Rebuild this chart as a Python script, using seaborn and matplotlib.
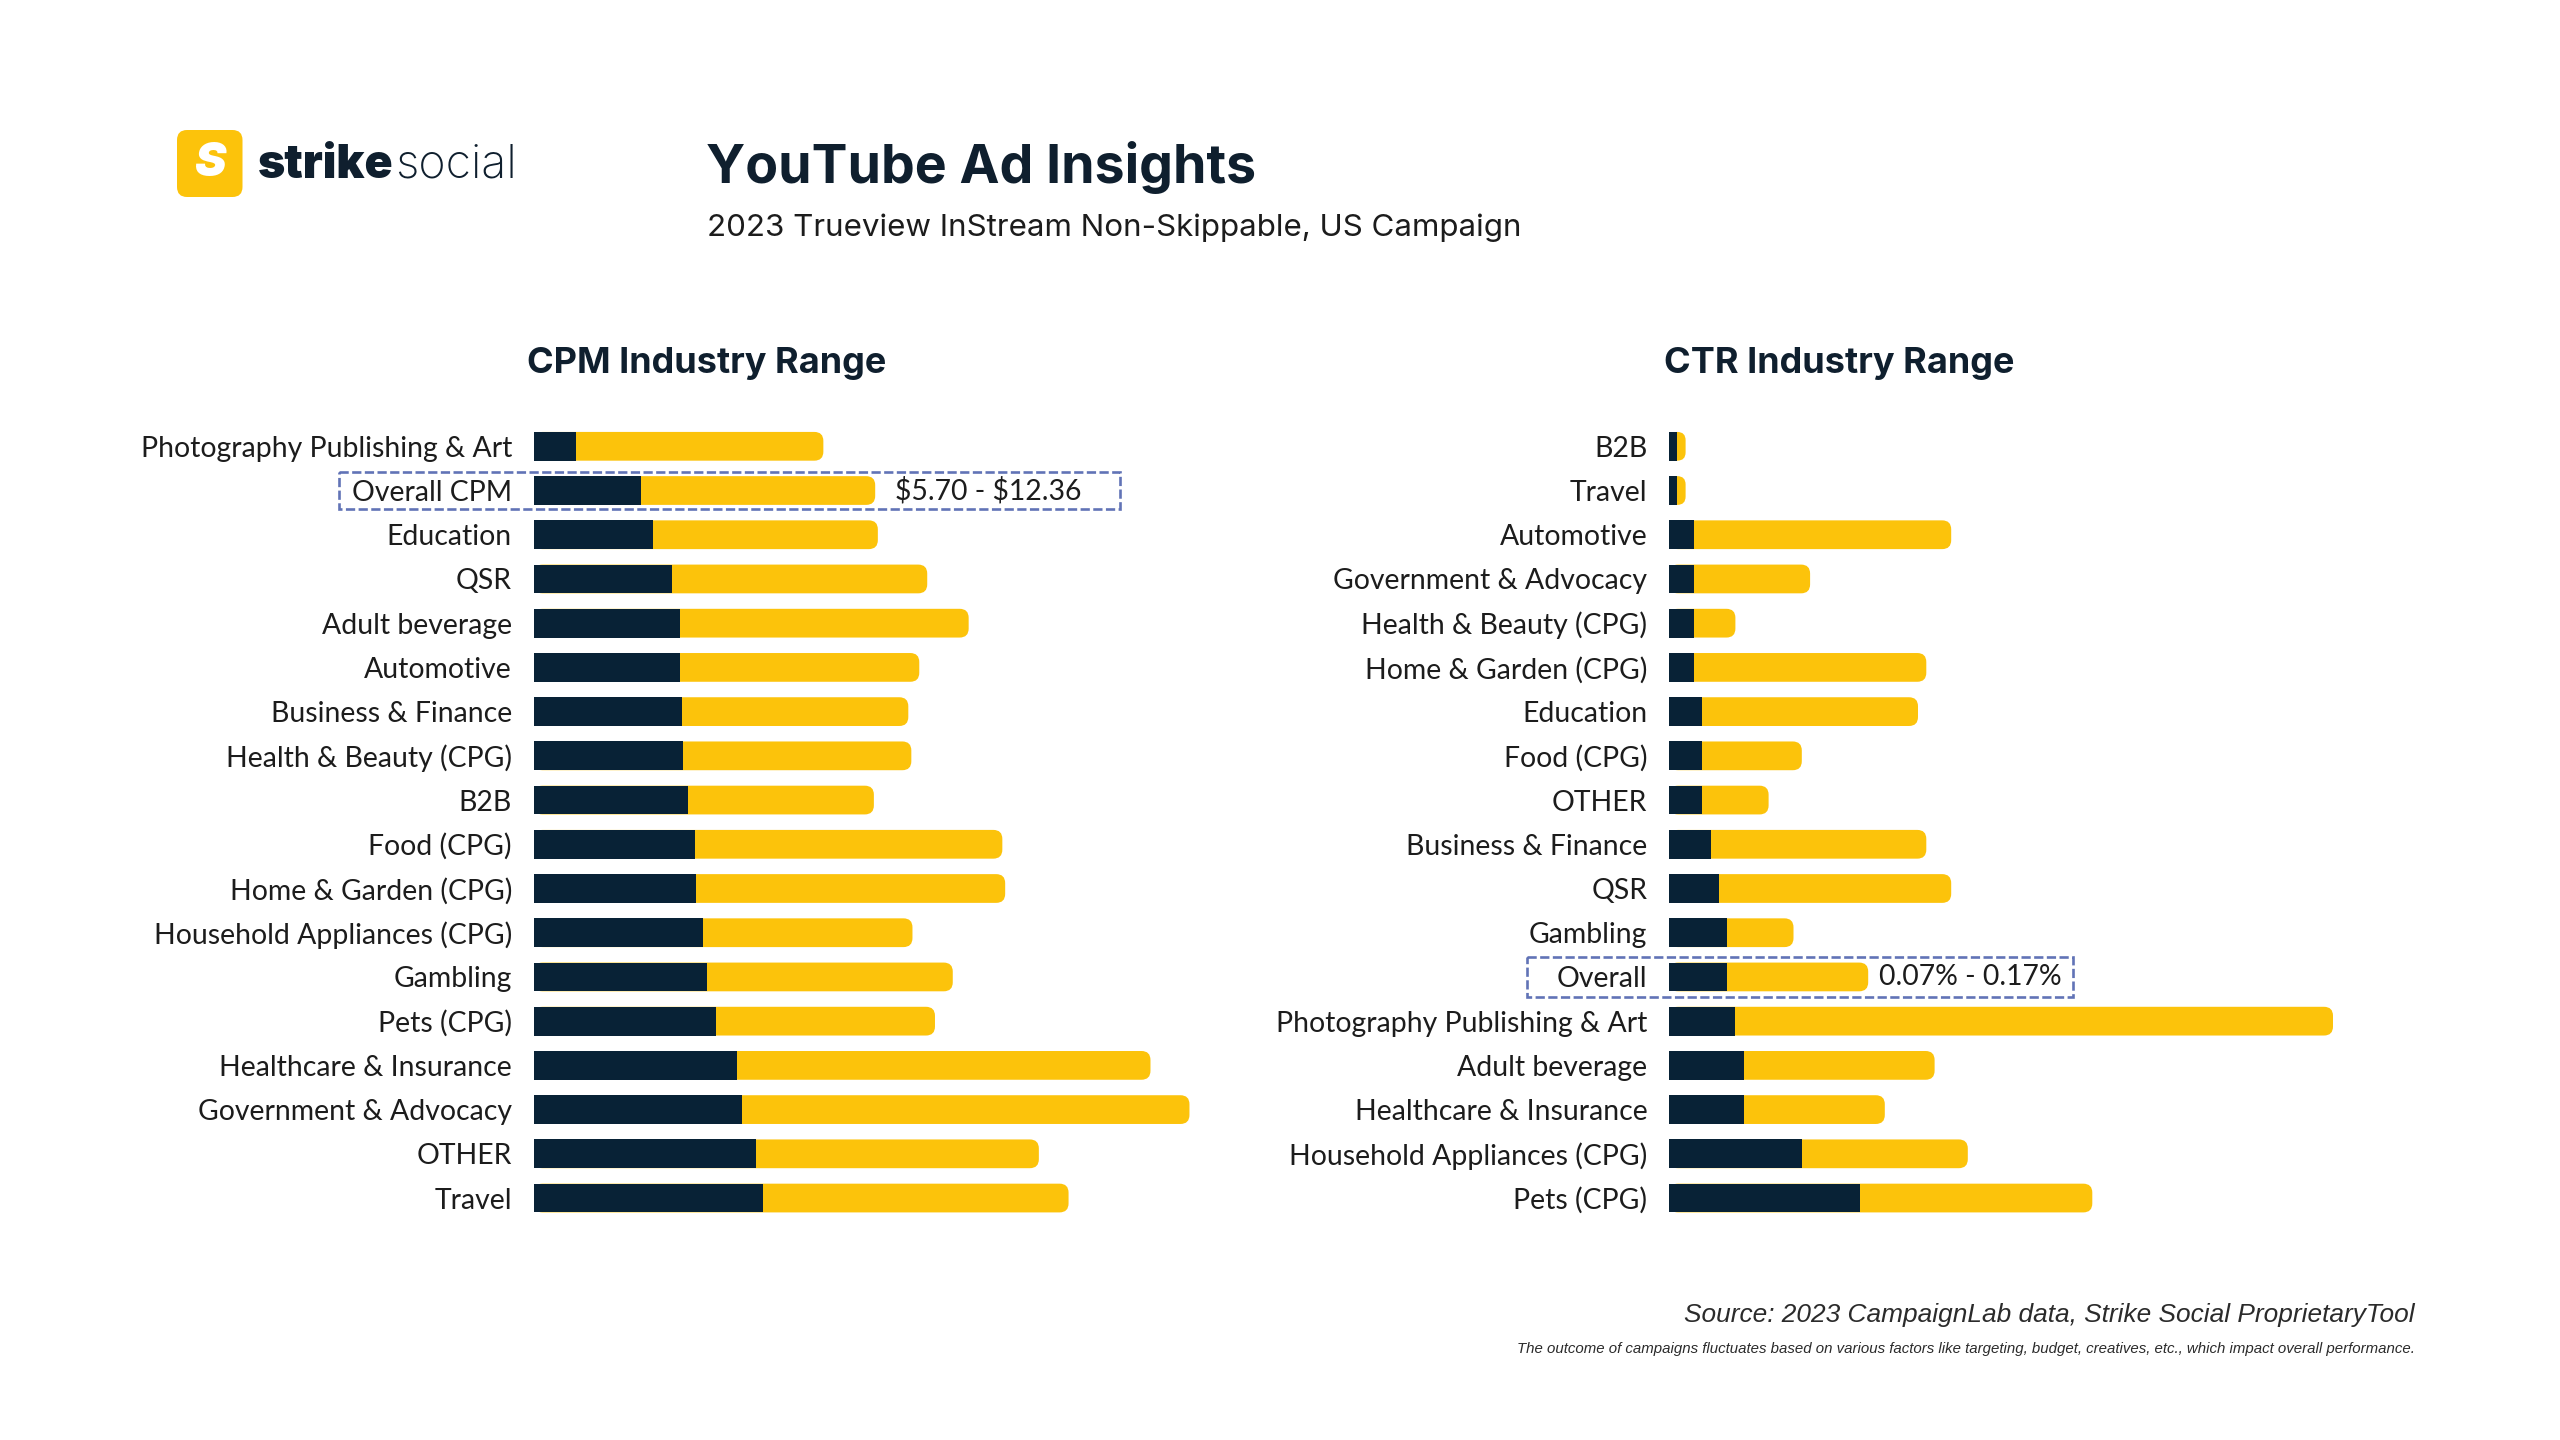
import matplotlib
matplotlib.use("Agg")
import matplotlib.pyplot as plt
from matplotlib.patches import FancyBboxPatch, Rectangle
import seaborn as sns
import pandas as pd

# ---- data (navy = low end, yellow = high end, stacked) ----
cpm_labels = ["Photography Publishing & Art", "Overall CPM", "Education", "QSR",
              "Adult beverage", "Automotive", "Business & Finance", "Health & Beauty (CPG)",
              "B2B", "Food (CPG)", "Home & Garden (CPG)", "Household Appliances (CPG)",
              "Gambling", "Pets (CPG)", "Healthcare & Insurance", "Government & Advocacy",
              "OTHER", "Travel"]
cpm_low = [2.27, 5.70, 6.29, 7.34, 7.75, 7.75, 7.83, 7.91, 8.17, 8.51, 8.59, 8.96,
           9.16, 9.63, 10.78, 11.04, 11.78, 12.14]
cpm_high = [13.05, 12.36, 11.91, 13.47, 15.25, 12.64, 11.98, 12.06, 9.82, 16.27, 16.34,
            11.07, 13.00, 11.59, 21.83, 23.63, 14.93, 16.14]

ctr_labels = ["B2B", "Travel", "Automotive", "Government & Advocacy", "Health & Beauty (CPG)",
              "Home & Garden (CPG)", "Education", "Food (CPG)", "OTHER", "Business & Finance",
              "QSR", "Gambling", "Overall", "Photography Publishing & Art", "Adult beverage",
              "Healthcare & Insurance", "Household Appliances (CPG)", "Pets (CPG)"]
ctr_low = [0.01, 0.01, 0.03, 0.03, 0.03, 0.03, 0.04, 0.04, 0.04, 0.05, 0.06, 0.07, 0.07,
           0.08, 0.09, 0.09, 0.16, 0.23]
ctr_high = [0.01, 0.01, 0.31, 0.14, 0.05, 0.28, 0.26, 0.12, 0.08, 0.26, 0.28, 0.08, 0.17,
            0.72, 0.23, 0.17, 0.20, 0.28]

cpm_note = r"\$5.70 - \$12.36"
ctr_note = "0.07% - 0.17%"

NAVY = "#082236"
YELLOW = "#FCC30B"
BOX = "#6173B6"
INK = "#1c1c1c"
TITLE_INK = "#0f1f2e"

sns.set_theme(style="white")
plt.rcParams["font.family"] = ["Lato", "DejaVu Sans"]

FIG_W, FIG_H = 2560, 1440
fig = plt.figure(figsize=(FIG_W / 100, FIG_H / 100), dpi=100)
fig.patch.set_facecolor("white")
renderer = fig.canvas.get_renderer()


def fit(t, target_px):
    # scale a text's font size so it spans target_px
    w = t.get_window_extent(renderer).width
    t.set_fontsize(t.get_fontsize() * target_px / w)
    return t


# measure label font size from the longest label
probe = fig.text(0, 0, "Photography Publishing & Art", fontsize=19)
fit(probe, 371)
LABEL_SIZE = probe.get_fontsize()
probe.remove()

ROW0, ROW_STEP, N = 446.3, 44.22, 18
ax_h = ROW_STEP * N
ax_bottom = 1 - (ROW0 - ROW_STEP / 2 + ax_h) / FIG_H


def draw_range(left_px, px_per_unit, xmax, labels, low, high, note, note_off, box_x, box_h):
    ax = fig.add_axes([left_px / FIG_W, ax_bottom, xmax * px_per_unit / FIG_W, ax_h / FIG_H])
    df = pd.DataFrame({"label": labels, "low": low, "high": high})
    df["total"] = df["low"] + df["high"]

    sns.barplot(data=df, x="total", y="label", color=YELLOW, saturation=1, width=0.65,
                errorbar=None, linewidth=0, edgecolor="none", orient="h", ax=ax)
    yellow = list(ax.patches)
    sns.barplot(data=df, x="low", y="label", color=NAVY, saturation=1, width=0.65,
                errorbar=None, linewidth=0, edgecolor="none", orient="h", ax=ax)
    navy = [p for p in ax.patches if p not in yellow]

    ax.set_xlim(0, xmax)
    ax.set_ylim(N - 0.5, -0.5)

    # rounded right ends on the yellow bars
    aspect = px_per_unit / ROW_STEP
    r = 9 / px_per_unit
    for p in yellow:
        x, y, w, h = p.get_x(), p.get_y(), p.get_width(), p.get_height()
        rr = min(r, w / 2)
        ax.add_patch(FancyBboxPatch((x, y), w, h, boxstyle=f"round,pad=0,rounding_size={rr}",
                                    mutation_aspect=aspect, fc=YELLOW, ec="none", lw=0, zorder=1))
        p.remove()
    for p in navy:
        p.set_zorder(2)

    ax.set_xticks([])
    ax.set_xlabel("")
    ax.set_ylabel("")
    ax.tick_params(axis="y", length=0, pad=15.5, labelsize=LABEL_SIZE, labelcolor=INK)
    for s in ax.spines.values():
        s.set_visible(False)

    # highlighted overall row
    i = next(k for k, lab in enumerate(labels) if lab.startswith("Overall"))
    ax.annotate(note, xy=(low[i] + high[i], i), xytext=(note_off, 0), textcoords="offset points",
                ha="left", va="center", fontsize=LABEL_SIZE, color=INK)
    ax.add_patch(Rectangle((box_x[0], i - box_h / 2), box_x[1] - box_x[0], box_h, fill=False,
                           ec=BOX, lw=1.9, ls=(0, (3.5, 1.3)), clip_on=False, zorder=3))
    return ax


draw_range(533.5, 18.92, 36, cpm_labels, cpm_low, cpm_high, cpm_note, 14, (-10.3, 31.0), 0.84)
draw_range(1669, 830, 0.8, ctr_labels, ctr_low, ctr_high, ctr_note, 8, (-0.171, 0.487), 0.90)


def fy(px):
    return 1 - px / FIG_H


# section headings
fit(fig.text(707 / FIG_W, fy(364), "CPM Industry Range", ha="center", va="center",
             family=["Inter", "DejaVu Sans"], weight="bold", color=TITLE_INK, fontsize=25), 359)
fit(fig.text(1839 / FIG_W, fy(364), "CTR Industry Range", ha="center", va="center",
             family=["Inter", "DejaVu Sans"], weight="bold", color=TITLE_INK, fontsize=25), 350)

# title block
fit(fig.text(706 / FIG_W, fy(183), "YouTube Ad Insights", ha="left", va="baseline",
             family=["Inter", "DejaVu Sans"], weight="bold", color=TITLE_INK, fontsize=36), 550)
fit(fig.text(707 / FIG_W, fy(236), "2023 Trueview InStream Non-Skippable, US Campaign",
             ha="left", va="baseline", family=["Inter", "DejaVu Sans"], color=INK, fontsize=21), 816)

# logo
fig.patches.append(FancyBboxPatch((1.77, (FIG_H - 197) / 100), 0.655, 0.67,
                                  boxstyle="round,pad=0,rounding_size=0.1",
                                  transform=fig.dpi_scale_trans, fc=YELLOW, ec="none",
                                  figure=fig))
fig.text(209.5 / FIG_W, fy(164), "S", ha="center", va="center", color="white",
         family=["Inter", "DejaVu Sans"], weight="black", style="italic", fontsize=34)
strike = fig.text(258 / FIG_W, fy(178), "strike", ha="left", va="baseline", color=TITLE_INK,
                  family=["Inter", "DejaVu Sans"], weight="black", fontsize=29)
social = fig.text(0, fy(178), "social", ha="left", va="baseline", color=TITLE_INK,
                  family=["Inter", "DejaVu Sans"], weight="light", fontsize=29)
strike_w = strike.get_window_extent(renderer).width
social_w = social.get_window_extent(renderer).width
scale = 258 / (strike_w + social_w)
strike.set_fontsize(29 * scale)
social.set_fontsize(29 * scale)
social.set_x((258 + strike_w * scale + 1) / FIG_W)

# footer
fit(fig.text(2415 / FIG_W, fy(1315), "Source: 2023 CampaignLab data, Strike Social ProprietaryTool",
             ha="right", va="center", style="italic", color="#2b2b2b",
             family=["Liberation Sans", "DejaVu Sans"], fontsize=18), 731)
fit(fig.text(2415 / FIG_W, fy(1349),
             "The outcome of campaigns fluctuates based on various factors like targeting, budget, "
             "creatives, etc., which impact overall performance.",
             ha="right", va="center", style="italic", color="#2b2b2b",
             family=["Liberation Sans", "DejaVu Sans"], fontsize=11), 900)

fig.savefig("out.png", dpi=100, facecolor="white")
